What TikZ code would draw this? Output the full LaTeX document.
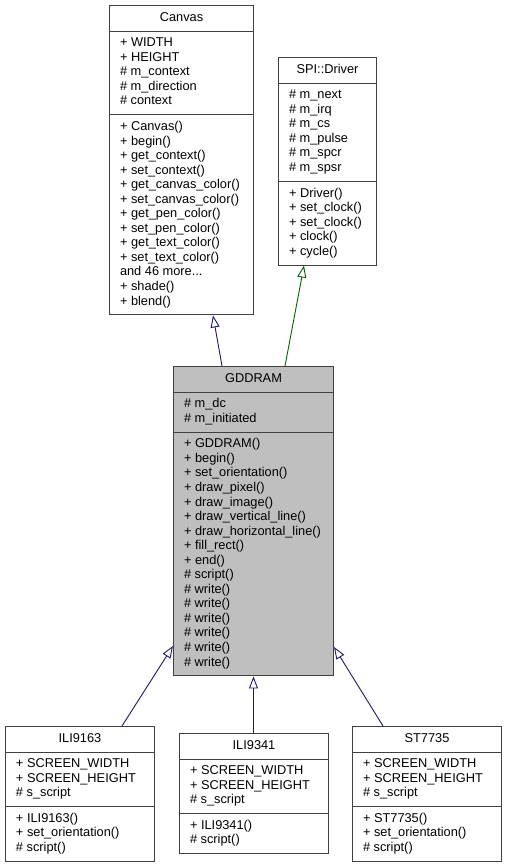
\documentclass[tikz,border=0pt]{standalone}
\usepackage{fontspec}
\setmainfont{Liberation Sans}
\usetikzlibrary{shapes.multipart,arrows.meta}

\definecolor{edgeblue}{HTML}{191970}
\definecolor{edgegreen}{HTML}{006400}
\definecolor{classgray}{HTML}{BFBFBF}

% one compartment of a class box
\newcommand\members[1]{\begin{tabular}{@{}l@{}}#1\end{tabular}}

\tikzset{
  classbox/.style={rectangle split, rectangle split parts=3,
    rectangle split part align={center,left,left},
    draw=black!75, line width=1pt, fill=white, anchor=north west,
    minimum width=#1, inner xsep=10.5pt, inner ysep=5pt,
    font=\fontsize{12.8}{14.55}\selectfont},
  inherits/.style={-{Triangle[open,length=12pt,width=9pt]}, line width=0.9pt}
}

\begin{document}
\begin{tikzpicture}[x=1pt,y=-1pt]
  \useasboundingbox (0,0) rectangle (507,867);

  % base classes
  \node[classbox=144pt] (canvas) at (109,5) {\strut Canvas
    \nodepart{two}\members{+ WIDTH\\+ HEIGHT\\\# m\_context\\\# m\_direction\\\# context}
    \nodepart{three}\members{+ Canvas()\\+ begin()\\+ get\_context()\\+ set\_context()\\
      + get\_canvas\_color()\\+ set\_canvas\_color()\\+ get\_pen\_color()\\+ set\_pen\_color()\\
      + get\_text\_color()\\+ set\_text\_color()\\and 46 more...\\+ shade()\\+ blend()}};

  \node[classbox=98pt] (driver) at (278,57) {\strut SPI::Driver
    \nodepart{two}\members{\# m\_next\\\# m\_irq\\\# m\_cs\\\# m\_pulse\\\# m\_spcr\\\# m\_spsr}
    \nodepart{three}\members{+ Driver()\\+ set\_clock()\\+ set\_clock()\\+ clock()\\+ cycle()}};

  % the documented class
  \node[classbox=160pt, fill=classgray] (gddram) at (173,366) {\strut GDDRAM
    \nodepart{two}\members{\# m\_dc\\\# m\_initiated}
    \nodepart{three}\members{+ GDDRAM()\\+ begin()\\+ set\_orientation()\\+ draw\_pixel()\\
      + draw\_image()\\+ draw\_vertical\_line()\\+ draw\_horizontal\_line()\\+ fill\_rect()\\
      + end()\\\# script()\\\# write()\\\# write()\\\# write()\\\# write()\\\# write()\\\# write()}};

  % derived classes
  \node[classbox=149pt] (ili9163) at (5,726) {\strut ILI9163
    \nodepart{two}\members{+ SCREEN\_WIDTH\\+ SCREEN\_HEIGHT\\\# s\_script}
    \nodepart{three}\members{+ ILI9163()\\+ set\_orientation()\\\# script()}};

  \node[classbox=149pt] (ili9341) at (179,733) {\strut ILI9341
    \nodepart{two}\members{+ SCREEN\_WIDTH\\+ SCREEN\_HEIGHT\\\# s\_script}
    \nodepart{three}\members{+ ILI9341()\\\# script()}};

  \node[classbox=149pt] (st7735) at (352,726) {\strut ST7735
    \nodepart{two}\members{+ SCREEN\_WIDTH\\+ SCREEN\_HEIGHT\\\# s\_script}
    \nodepart{three}\members{+ ST7735()\\+ set\_orientation()\\\# script()}};

  % inheritance
  \draw[inherits, edgeblue] ([xshift=49pt]gddram.north west) -- ([xshift=104pt]canvas.south west);
  \draw[inherits, edgegreen] ([xshift=112pt]gddram.north west) -- ([xshift=26pt]driver.south west);
  \draw[inherits, edgeblue] ([xshift=117pt]ili9163.north west) -- ([yshift=-280pt]gddram.north west);
  \draw[inherits, edgeblue] (ili9341.north -| gddram.south) -- (gddram.south);
  \draw[inherits, edgeblue] ([xshift=31pt]st7735.north west) -- ([yshift=-281pt]gddram.north east);
\end{tikzpicture}
\end{document}
